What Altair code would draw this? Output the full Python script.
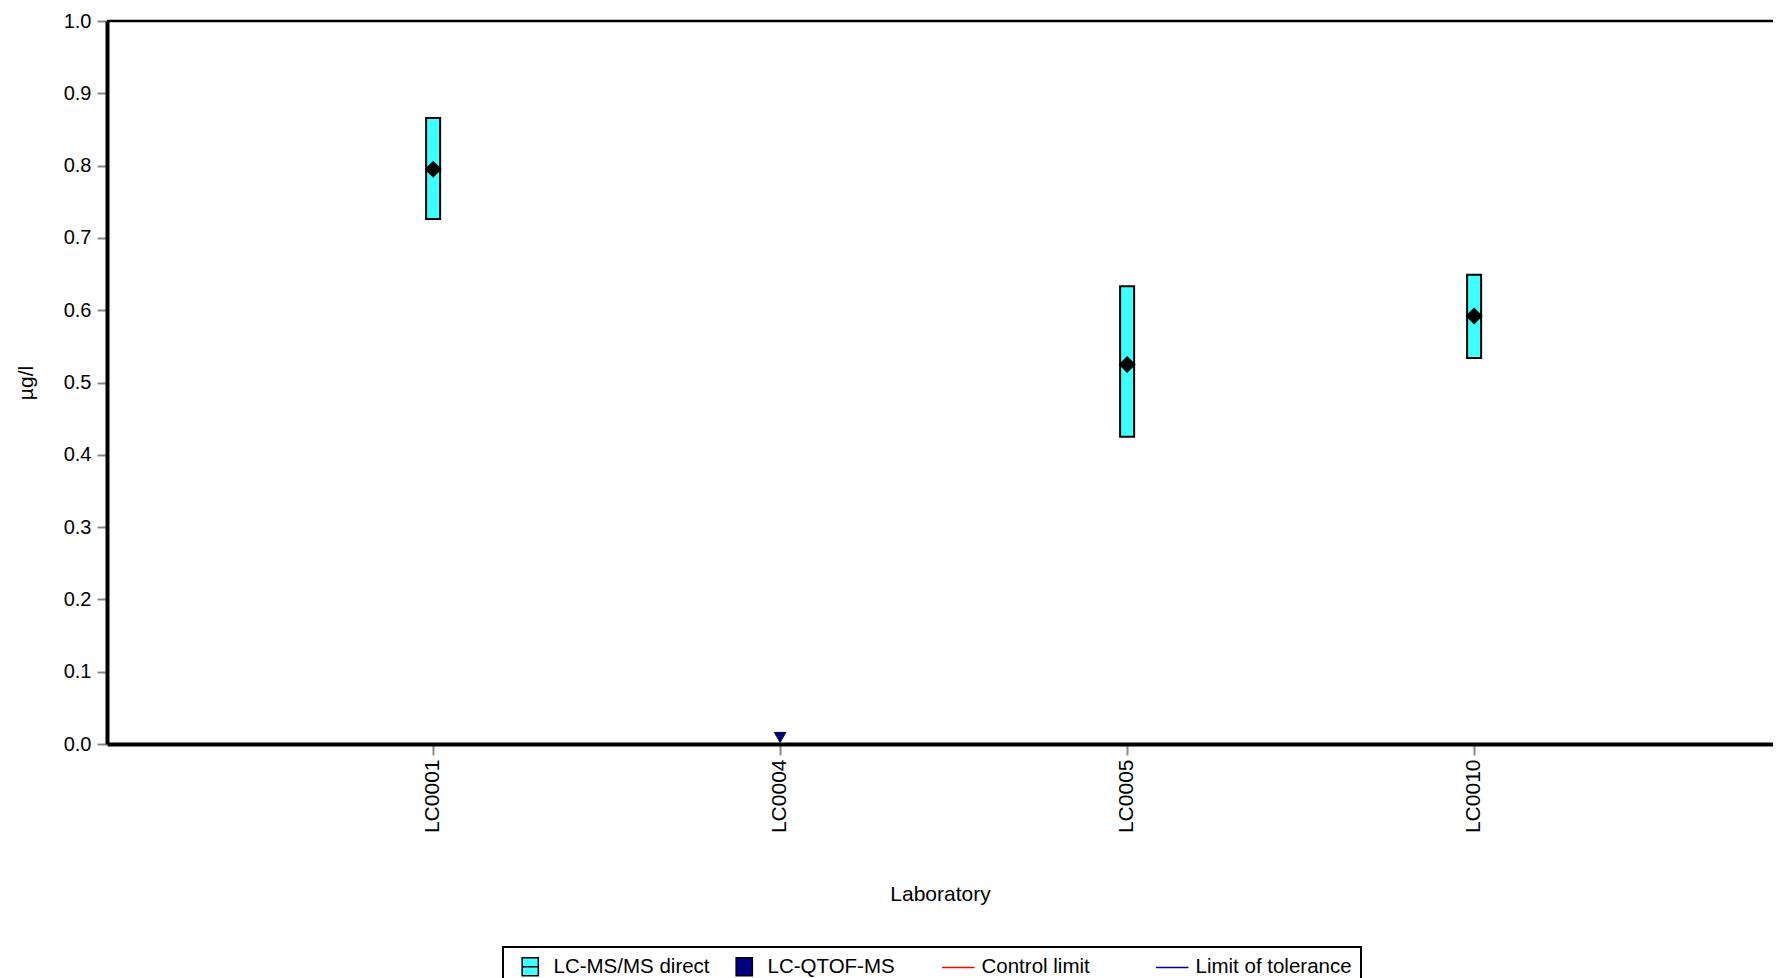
import altair as alt
import pandas as pd

# ---- data ----
labs = ["LC0001", "LC0004", "LC0005", "LC0010"]
methods = ["LC-MS/MS direct", "LC-QTOF-MS", "LC-MS/MS direct", "LC-MS/MS direct"]
means = [0.795, 0.009, 0.525, 0.592]
lower = [0.726, None, 0.425, 0.534]
upper = [0.866, None, 0.633, 0.649]

y_ticks = [0.0, 0.1, 0.2, 0.3, 0.4, 0.5, 0.6, 0.7, 0.8, 0.9, 1.0]

legend_items = ["LC-MS/MS direct", "LC-QTOF-MS", "Control limit", "Limit of tolerance"]
legend_fill = ["#40ffff", "#000080", "#ff0000", "#000099"]
legend_stroke = ["#000000", "#000000", "#ff0000", "#000099"]
legend_shape = [
    "M-0.9,-1H0.9V1H-0.9Z M-0.9,0H0.9",
    "M-0.9,-1H0.9V1H-0.9Z",
    "M-1.8,0H1.8",
    "M-1.8,0H1.8",
]

FONT = "Liberation Sans"

df = pd.DataFrame({"lab": labs, "method": methods, "mean": means,
                   "lower": lower, "upper": upper})

x_enc = alt.X(
    "lab:N",
    sort=labs,
    scale=alt.Scale(type="band", domain=labs, paddingInner=0,
                    paddingOuter=0.4006, align=0.549),
    axis=alt.Axis(title="Laboratory", labelAngle=270, labelFontSize=21,
                  tickSize=11, labelPadding=4, titleFontSize=21, titlePadding=51),
)
y_scale = alt.Scale(domain=[0, 1], nice=False)
y_axis = alt.Axis(title="µg/l", values=y_ticks, format=".1f", tickSize=10,
                  labelPadding=6, labelFontSize=20, titleFontSize=21, titlePadding=27)

base = alt.Chart(df)

top_line = alt.Chart(pd.DataFrame({"top": [1.0]})).mark_rule(
    color="black", strokeWidth=2.5
).encode(y=alt.Y("top:Q", scale=y_scale, axis=y_axis))

bars = base.transform_filter("datum.lower != null").mark_bar(
    size=14, fill="#40ffff", stroke="black", strokeWidth=2
).encode(
    x=x_enc,
    y=alt.Y("lower:Q", scale=y_scale, axis=y_axis),
    y2="upper:Q",
)

diamonds = base.transform_filter("datum.method == 'LC-MS/MS direct'").mark_point(
    shape="diamond", filled=True, fill="black", size=290, opacity=1
).encode(
    x=x_enc,
    y=alt.Y("mean:Q", scale=y_scale, axis=y_axis),
)

tri = base.transform_filter("datum.method == 'LC-QTOF-MS'").mark_point(
    shape="triangle-down", filled=True, fill="#000080", stroke="black",
    strokeWidth=0.8, size=140, opacity=1
).encode(
    x=x_enc,
    y=alt.Y("mean:Q", scale=y_scale, axis=y_axis),
)

leg = alt.Chart(pd.DataFrame({"item": legend_items})).transform_filter("false").mark_point(
    filled=True, opacity=1
).encode(
    fill=alt.Fill("item:N", scale=alt.Scale(domain=legend_items, range=legend_fill),
                  legend=alt.Legend(title=None)),
    stroke=alt.Stroke("item:N", scale=alt.Scale(domain=legend_items, range=legend_stroke),
                      legend=alt.Legend(title=None)),
    shape=alt.Shape("item:N", scale=alt.Scale(domain=legend_items, range=legend_shape),
                    legend=alt.Legend(title=None)),
)

chart = alt.layer(top_line, bars, diamonds, tri, leg).properties(
    width=1666,
    height=723,
    autosize=alt.AutoSizeParams(type="none"),
    padding={"left": 99, "top": 13, "right": 0, "bottom": 234},
).configure_view(
    stroke=None
).configure_axis(
    domainColor="black", domainWidth=4, tickColor="#888888", tickWidth=2,
    labelColor="black", titleColor="black", labelFont=FONT, titleFont=FONT,
    titleFontWeight="normal", grid=False,
).configure_legend(
    orient="none", legendX=396, legendY=926, direction="horizontal", columns=4,
    gridAlign="all", strokeColor="black", strokeWidth=2, fillColor="white",
    padding=9, symbolOffset=8, labelOffset=13, columnPadding=15,
    labelFont=FONT, labelFontSize=20.5, labelColor="black",
    symbolSize=324, symbolStrokeWidth=1.5,
)

chart.save("out.html", embed_options={"renderer": "svg", "actions": False})
